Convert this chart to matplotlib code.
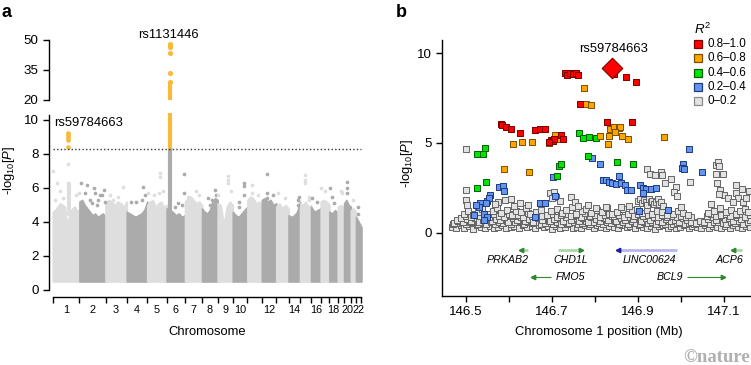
import matplotlib.pyplot as plt
import numpy as np

plt.rcParams['font.family'] = 'Liberation Sans'
plt.rcParams['mathtext.fontset'] = 'custom'
plt.rcParams['mathtext.rm'] = 'Liberation Sans'
plt.rcParams['mathtext.it'] = 'Liberation Sans:italic'

W, H = 751, 365

# ---------------- panel a: genome-wide scan ----------------
chrom_len = [249, 243, 198, 191, 181, 171, 159, 146, 141, 136, 135,
             134, 115, 107, 103, 90, 81, 78, 59, 63, 48, 51]
chrom_labels = ['1', '2', '3', '4', '5', '6', '7', '8', '9', '10', '',
                '12', '', '14', '', '16', '', '18', '', '20', '', '22']

# top of the dense point mass for each chromosome (read along its length)
mass_top = [
    [4.6, 4.7, 4.9, 5.1, 5.0, 4.9, 3.8, 4.5, 4.8, 4.9, 4.7, 4.6],
    [5.2, 5.3, 5.0, 4.8, 4.6, 4.4, 4.5, 4.3, 4.4, 4.5, 4.3],
    [5.1, 5.3, 5.2, 5.0, 5.2, 5.1, 4.9, 5.2],
    [4.6, 4.5, 4.4, 4.3, 4.4, 4.5, 4.7, 5.2],
    [5.0, 5.2, 5.3, 4.9, 5.1, 5.2, 4.9, 5.0],
    [4.8, 4.7, 4.6, 4.4, 4.5, 4.3, 4.4],
    [5.2, 5.4, 5.5, 5.3, 5.1, 5.2, 5.0],
    [4.8, 4.6, 4.5, 4.7, 5.2, 5.4, 5.3],
    [5.1, 5.0, 3.8, 4.9, 5.2, 5.0],
    [4.6, 4.4, 4.3, 4.5, 4.7, 4.9],
    [5.3, 5.5, 5.4, 5.1, 5.2, 5.0],
    [5.3, 5.4, 5.2, 5.3, 5.0, 5.1],
    [4.9, 5.1, 4.8, 5.0, 4.8],
    [4.4, 4.3, 4.4, 4.6, 5.2],
    [5.1, 5.0, 5.2, 4.9, 5.0],
    [4.9, 4.6, 4.7, 4.8],
    [5.2, 5.3, 5.2, 5.0],
    [4.6, 4.5, 4.7, 4.5],
    [4.9, 5.0, 4.8],
    [5.1, 5.3, 5.0, 4.9],
    [4.7, 4.8, 4.6],
    [4.3, 4.0, 3.7],
]
mass_bottom = 0.5

# scattered points above the mass: chromosome, position (Mb), -log10 P
out_chr = [1, 1, 1, 1, 1, 1, 1, 1, 1, 1, 1,
           2, 2, 2, 2, 2, 2, 2, 2, 2, 2, 2, 2, 2,
           3, 3, 3, 3, 4, 4, 4, 4, 4, 5, 5, 5, 5, 5, 5,
           6, 6, 6, 6, 6, 7, 7, 7, 8, 8, 8, 8, 8,
           9, 9, 9, 9, 9, 10, 10, 10, 10, 10, 11, 11, 11,
           12, 12, 12, 12, 13, 13, 14, 14, 14, 15, 15, 15, 15, 15,
           16, 16, 17, 17, 18, 18, 18, 19, 19, 20, 20, 20, 21, 22, 22]
out_pos = [6, 37, 68, 145, 145, 146, 145, 214, 245, 20, 100,
           15, 67, 52, 139, 145, 176, 192, 213, 120, 160, 100, 225, 235,
           73, 166, 120, 40, 39, 83, 154, 139, 170, 10, 119, 119, 110, 150, 60,
           164, 164, 109, 140, 80, 31, 100, 130, 58, 89, 74, 120, 130,
           92, 92, 92, 1, 120, 55, 55, 106, 106, 106, 39, 39, 100,
           44, 44, 44, 100, 18, 80, 84, 84, 100, 51, 51, 51, 80, 85,
           5, 60, 7, 38, 1, 40, 20, 30, 40, 31, 31, 31, 20, 19, 19]
out_y = [7.0, 6.27, 5.84, 6.3, 5.9, 5.5, 7.4, 5.6, 5.7, 5.3, 5.4,
         6.27, 6.2, 5.69, 5.98, 5.69, 5.29, 5.59, 5.59, 5.1, 5.0, 5.3, 5.9, 5.2,
         5.29, 6.04, 5.5, 5.6, 5.2, 5.16, 6.04, 5.3, 5.6, 5.69, 6.9, 6.67, 5.7, 5.8, 5.6,
         6.8, 5.69, 5.1, 5.0, 4.9, 5.5, 5.8, 5.6, 5.39, 5.29, 5.0, 5.9, 5.6,
         6.7, 6.5, 6.3, 5.6, 5.8, 5.2, 4.9, 6.31, 6.12, 5.6, 6.2, 5.7, 5.6,
         6.8, 5.7, 5.4, 5.6, 5.7, 5.4, 5.3, 5.0, 5.5, 6.76, 6.5, 6.3, 5.5, 5.3,
         5.4, 5.2, 6.0, 5.8, 5.98, 5.1, 5.5, 5.8, 5.7, 6.35, 6.0, 5.7, 5.3, 4.9, 4.5]

# associated loci
threshold = 8.3
chr1_hit_pos = 146.8
chr1_gray_col = (4.5, 6.3)
chr1_hit_y = [9.25, 9.15, 9.05, 8.95, 8.85, 8.4]
chr6_hit_span = (28.5, 33.5)
chr6_gray_col = (4.4, 8.3)
chr6_orange_low = (8.3, 10.4)
chr6_orange_high = (20.0, 28.3)
chr6_hit_y = [29.0, 33.7, 43.3, 46.5, 47.4, 48.1]

light, dark, hit = '#dedede', '#ababab', '#f9b93a'

starts = np.concatenate([[0], np.cumsum(chrom_len)[:-1]])
total = starts[-1] + chrom_len[-1]

fig = plt.figure(figsize=(W / 100, H / 100), dpi=100)

ax_lo = fig.add_axes([49 / W, 1 - 296.8 / H, 316 / W, (296.8 - 113.2) / H])
ax_hi = fig.add_axes([49 / W, 1 - 100 / H, 316 / W, 61 / H])
for ax in (ax_lo, ax_hi):
    ax.set_xlim(-35, 2912)
    for s in ('top', 'right'):
        ax.spines[s].set_visible(False)
    ax.spines['left'].set_linewidth(1.0)
    ax.tick_params(axis='y', length=4.5, width=1.0, pad=3, labelsize=9.6)
ax_lo.set_ylim(-0.4, 10.4)
ax_hi.set_ylim(20, 50.5)
ax_hi.spines['bottom'].set_visible(False)
ax_hi.set_xticks([])
ax_lo.spines['left'].set_bounds(0, 10.3)
ax_hi.spines['left'].set_bounds(20, 50)
ax_lo.spines['bottom'].set_bounds(0, total)
ax_lo.spines['bottom'].set_linewidth(1.0)
ax_lo.set_yticks([0, 2, 4, 6, 8, 10])
ax_hi.set_yticks([20, 35, 50])

for i, L in enumerate(chrom_len):
    col = light if i % 2 == 0 else dark
    top = mass_top[i]
    xs = starts[i] + L * np.linspace(0, 1, len(top))
    ax_lo.fill_between(xs, mass_bottom, top, facecolor=col, edgecolor=col,
                       lw=1.2, joinstyle='round', zorder=2)

for c, p, y in zip(out_chr, out_pos, out_y):
    col = light if (c - 1) % 2 == 0 else dark
    ax_lo.scatter(starts[c - 1] + p, y, s=7, color=col, lw=0, zorder=3)

# chromosome 1 locus
x1 = starts[0] + chr1_hit_pos
ax_lo.fill_between([x1 - 1, x1 + 1], chr1_gray_col[0], chr1_gray_col[1],
                   facecolor=light, edgecolor=light, lw=2.2, zorder=3)
ax_lo.scatter([x1] * len(chr1_hit_y), chr1_hit_y, s=11, color=hit, lw=0, zorder=4)

# chromosome 6 locus
s6 = starts[5]
hx = [s6 + chr6_hit_span[0], s6 + chr6_hit_span[1]]
ax_lo.fill_between(hx, chr6_gray_col[0], chr6_gray_col[1],
                   facecolor=dark, edgecolor=dark, lw=3, zorder=3)
ax_lo.fill_between(hx, chr6_orange_low[0], chr6_orange_low[1],
                   facecolor=hit, edgecolor=hit, lw=3, zorder=4)
ax_hi.fill_between(hx, chr6_orange_high[0], chr6_orange_high[1],
                   facecolor=hit, edgecolor=hit, lw=3, zorder=4)
ax_hi.scatter([s6 + sum(chr6_hit_span) / 2] * len(chr6_hit_y), chr6_hit_y,
              s=14, color=hit, lw=0, zorder=4, clip_on=False)

ax_lo.hlines(threshold, 0, total, colors='#333333', lw=1.0,
             linestyles=(0, (1, 1.6)), zorder=5)

bounds = np.concatenate([starts, [total]])
ax_lo.set_xticks(bounds)
ax_lo.set_xticklabels([])
ax_lo.set_xticks(starts + np.array(chrom_len) / 2, minor=True)
ax_lo.set_xticklabels(chrom_labels, minor=True)
ax_lo.tick_params(axis='x', which='major', length=4, width=1.0)
ax_lo.tick_params(axis='x', which='minor', length=0, pad=6, labelsize=7.8)

fig.text(168 / W, 1 - 34.5 / H, 'rs1131446', ha='center', va='center', fontsize=9.4)
fig.text(89 / W, 1 - 122.7 / H, 'rs59784663', ha='center', va='center', fontsize=9.4)
fig.text(207 / W, 1 - 332 / H, 'Chromosome', ha='center', va='center', fontsize=9.4)
fig.text(9 / W, 1 - 170 / H, r'-log$_{10}$[$P$]', rotation=90,
         ha='center', va='center', fontsize=9.4)
fig.text(2 / W, 1 - 4 / H, 'a', fontsize=13, fontweight='bold', va='top')

# ---------------- panel b: regional plot ----------------
red_x = [146.730, 146.736, 146.743, 146.750, 146.756, 146.760, 146.845, 146.872,
         146.895, 146.765, 146.828, 146.886, 146.581, 146.585, 146.593, 146.605,
         146.626, 146.662, 146.672, 146.683, 146.697, 146.702, 146.705, 146.721,
         146.726, 146.694]
red_y = [8.88, 8.77, 8.88, 8.86, 8.92, 8.79, 8.87, 8.68, 8.38, 7.19, 6.19, 6.19,
         6.04, 5.98, 5.86, 5.80, 5.58, 5.71, 5.78, 5.76, 5.17, 5.09, 5.20, 5.43,
         5.24, 5.05]
orange_x = [146.774, 146.780, 146.792, 146.836, 146.845, 146.855, 146.858, 146.833,
            146.813, 146.863, 146.876, 146.831, 146.846, 146.960, 146.609, 146.630,
            146.653, 146.694, 146.707, 146.711, 146.588, 146.647]
orange_y = [8.07, 7.19, 7.12, 5.80, 5.91, 5.84, 5.86, 5.41, 5.41, 5.39, 5.19, 4.94,
            5.63, 5.33, 4.96, 5.06, 5.07, 5.02, 5.45, 5.20, 3.55, 3.35]
green_x = [146.526, 146.541, 146.545, 146.525, 146.547, 146.717, 146.722, 146.711,
           146.763, 146.772, 146.786, 146.802, 146.784, 146.851, 146.889]
green_y = [4.40, 4.40, 4.74, 2.51, 2.83, 3.70, 3.83, 3.18, 5.58, 5.30, 5.32, 5.30,
           4.29, 3.92, 3.83]
blue_x = [146.793, 146.813, 146.857, 146.820, 146.827, 146.832, 146.840, 146.849,
          146.861, 146.869, 146.874, 146.883, 146.904, 146.911, 146.918, 146.931,
          146.942, 146.912, 146.902, 146.971, 147.019, 147.005, 147.002, 147.008,
          147.049, 146.702, 146.708, 146.672, 146.683, 146.660, 146.578, 146.587,
          146.589, 146.550, 146.557, 146.553, 146.534, 146.530, 146.547, 146.524,
          146.518, 146.542, 146.549, 146.543]
blue_y = [4.13, 3.85, 3.18, 2.94, 2.92, 2.83, 2.79, 2.71, 2.77, 2.64, 2.38, 2.36,
          2.66, 2.49, 2.45, 2.45, 2.47, 2.21, 1.19, 1.23, 4.68, 3.83, 3.61, 3.53,
          3.35, 3.10, 2.06, 1.67, 1.65, 0.89, 2.53, 2.62, 2.32, 1.78, 2.10, 1.95,
          1.64, 1.41, 1.62, 1.51, 0.99, 1.02, 0.89, 0.71]
lead_x, lead_y = 146.839, 9.2

gray_upper = [
    (146.500, 4.68), (146.500, 2.40), (146.921, 3.54), (146.928, 3.26), (146.940, 3.23),
    (146.953, 3.38), (146.955, 3.22), (146.977, 2.98), (146.963, 2.76), (146.988, 2.54),
    (146.983, 2.28), (146.990, 2.04), (147.021, 2.80), (147.081, 3.78), (147.086, 3.91),
    (147.088, 3.69), (147.081, 3.26), (147.098, 3.26), (147.085, 2.76), (147.090, 2.39),
    (147.100, 2.11), (147.088, 2.13), (147.129, 2.66), (147.141, 2.44), (147.129, 2.20),
    (147.133, 1.92), (147.145, 1.73), (147.152, 1.92), (147.158, 2.30), (147.110, 1.95),
    (146.900, 1.75), (146.905, 1.85), (146.910, 1.62), (146.914, 1.80), (146.918, 1.70),
    (146.922, 1.55), (146.926, 1.85), (146.930, 1.68), (146.934, 1.78), (146.938, 1.60),
    (146.942, 1.72), (146.946, 1.86), (146.950, 1.58), (146.954, 1.70), (146.958, 1.50),
    (146.575, 1.73), (146.591, 1.83), (146.604, 1.86), (146.626, 1.64), (146.645, 1.55),
    (146.695, 2.20), (146.706, 2.24), (146.710, 1.98), (146.744, 1.98), (146.753, 1.73),
    (146.784, 1.55), (146.803, 1.36), (146.500, 1.80), (146.502, 1.55), (146.567, 1.60),
    (146.612, 1.50), (146.700, 1.90), (146.718, 1.75), (146.760, 1.50), (146.825, 1.45),
    (146.860, 1.42), (146.880, 1.50), (147.000, 1.45), (147.070, 1.60), (147.120, 1.70),
]
gray_x1 = [146.468, 146.477, 146.489, 146.497, 146.508, 146.516, 146.527, 146.536, 146.545, 146.556,
           146.565, 146.574, 146.585, 146.593, 146.604, 146.613, 146.624, 146.633, 146.642, 146.653,
           146.662, 146.671, 146.682, 146.690, 146.701, 146.710, 146.719, 146.730, 146.738, 146.749,
           146.758, 146.767, 146.778, 146.786, 146.797, 146.806, 146.815, 146.826, 146.834, 146.845,
           146.854, 146.863, 146.874, 146.882, 146.893, 146.902, 146.911, 146.922, 146.930, 146.941,
           146.950, 146.959, 146.970, 146.978, 146.989, 146.998, 147.007, 147.018, 147.026, 147.037,
           147.046, 147.055, 147.066, 147.074, 147.085, 147.094, 147.103, 147.114, 147.122, 147.133,
           147.142, 147.151, 147.160]
gray_y1 = [0.32, 0.25, 0.41, 0.28, 0.35, 0.22, 0.44, 0.30, 0.27, 0.38,
           0.24, 0.33, 0.42, 0.26, 0.31, 0.37, 0.23, 0.40, 0.29, 0.34,
           0.25, 0.43, 0.30, 0.36, 0.22, 0.39, 0.28, 0.33, 0.45, 0.26,
           0.31, 0.24, 0.40, 0.35, 0.27, 0.42, 0.30, 0.23, 0.38, 0.33,
           0.26, 0.44, 0.29, 0.36, 0.24, 0.41, 0.31, 0.27, 0.38, 0.22,
           0.34, 0.43, 0.28, 0.37, 0.25, 0.32, 0.40, 0.26, 0.35, 0.30,
           0.23, 0.42, 0.28, 0.36, 0.31, 0.24, 0.39, 0.27, 0.44, 0.33,
           0.25, 0.37, 0.30]
gray_x2 = [146.472, 146.483, 146.493, 146.503, 146.512, 146.522, 146.531, 146.541, 146.551, 146.560,
           146.570, 146.580, 146.589, 146.599, 146.609, 146.618, 146.628, 146.638, 146.647, 146.657,
           146.667, 146.676, 146.686, 146.696, 146.705, 146.715, 146.725, 146.734, 146.744, 146.754,
           146.763, 146.773, 146.783, 146.792, 146.802, 146.812, 146.821, 146.831, 146.841, 146.850,
           146.860, 146.870, 146.879, 146.889, 146.899, 146.908, 146.918, 146.928, 146.937, 146.947,
           146.957, 146.966, 146.976, 146.986, 146.995, 147.005, 147.015, 147.024, 147.034, 147.044,
           147.053, 147.063, 147.073, 147.082, 147.092, 147.102, 147.111, 147.121, 147.131, 147.140,
           147.150, 147.160]
gray_y2 = [0.55, 0.62, 0.58, 0.74, 0.66, 0.81, 0.59, 0.72, 0.85, 0.63,
           0.77, 0.68, 0.90, 0.61, 0.79, 0.70, 0.86, 0.64, 0.75, 0.58,
           0.82, 0.69, 0.93, 0.66, 0.78, 0.88, 0.62, 0.84, 0.71, 0.95,
           0.67, 0.80, 0.60, 0.87, 0.73, 0.65, 0.83, 0.70, 0.91, 0.62,
           0.79, 0.68, 0.86, 0.74, 0.94, 0.66, 0.81, 0.72, 0.88, 0.63,
           0.57, 0.76, 0.64, 0.70, 0.59, 0.82, 0.68, 0.61, 0.55, 0.66,
           0.60, 0.78, 0.85, 0.69, 0.92, 0.74, 0.83, 0.66, 0.89, 0.77,
           0.84, 0.71]
gray_x3 = [146.495, 146.505, 146.517, 146.528, 146.538, 146.552, 146.563, 146.572, 146.583, 146.596,
           146.607, 146.616, 146.629, 146.640, 146.650, 146.664, 146.675, 146.688, 146.699, 146.712,
           146.723, 146.733, 146.746, 146.757, 146.769, 146.780, 146.791, 146.805, 146.816, 146.828,
           146.839, 146.852, 146.866, 146.877, 146.887, 146.897, 146.909, 146.921, 146.933, 146.945,
           146.956, 146.968, 146.981, 146.993, 147.004, 147.016, 147.064, 147.078, 147.091, 147.105,
           147.117, 147.127, 147.138, 147.148, 147.157]
gray_y3 = [1.05, 1.22, 0.98, 1.15, 1.30, 1.02, 1.18, 1.35, 1.08, 1.25,
           0.99, 1.20, 1.12, 1.38, 1.04, 1.16, 1.28, 1.00, 1.21, 1.33,
           1.09, 1.26, 1.40, 1.03, 1.19, 1.31, 1.07, 1.24, 1.13, 1.36,
           1.01, 1.17, 1.29, 1.06, 1.23, 1.34, 1.11, 1.27, 1.02, 1.20,
           1.14, 0.98, 1.05, 1.18, 1.10, 0.97, 1.08, 1.22, 1.35, 1.15,
           1.28, 1.04, 1.19, 1.31, 1.12]
gray_x4 = [146.470, 146.480, 146.491, 146.500, 146.510, 146.519, 146.529, 146.539, 146.548, 146.558,
           146.567, 146.577, 146.587, 146.596, 146.606, 146.615, 146.626, 146.635, 146.645, 146.655,
           146.664, 146.674, 146.684, 146.693, 146.703, 146.712, 146.722, 146.732, 146.741, 146.751,
           146.761, 146.770, 146.780, 146.789, 146.799, 146.809, 146.818, 146.828, 146.838, 146.847,
           146.857, 146.866, 146.876, 146.886, 146.895, 146.905, 146.914, 146.924, 146.934, 146.943,
           146.953, 146.962, 146.972, 146.982, 146.991, 147.001, 147.010, 147.020, 147.030, 147.039,
           147.049, 147.058, 147.068, 147.078, 147.087, 147.097, 147.106, 147.116, 147.126, 147.135,
           147.145, 147.155]
gray_y4 = [0.45, 0.52, 0.60, 0.48, 0.57, 0.63, 0.46, 0.55, 0.50, 0.61,
           0.47, 0.58, 0.53, 0.64, 0.49, 0.56, 0.62, 0.45, 0.59, 0.51,
           0.60, 0.47, 0.54, 0.63, 0.50, 0.57, 0.46, 0.61, 0.52, 0.58,
           0.48, 0.55, 0.64, 0.49, 0.60, 0.53, 0.46, 0.58, 0.51, 0.62,
           0.47, 0.56, 0.50, 0.63, 0.54, 0.48, 0.59, 0.52, 0.61, 0.45,
           0.57, 0.50, 0.62, 0.47, 0.55, 0.60, 0.49, 0.53, 0.46, 0.58,
           0.51, 0.63, 0.48, 0.56, 0.60, 0.52, 0.47, 0.59, 0.54, 0.62,
           0.49, 0.57]
gray_x5 = [146.480, 146.490, 146.500, 146.511, 146.522, 146.533, 146.544, 146.555, 146.566, 146.577,
           146.588, 146.600, 146.611, 146.622, 146.633, 146.644, 146.655, 146.666, 146.678, 146.689,
           146.700, 146.711, 146.722, 146.733, 146.745, 146.756, 146.767, 146.778, 146.789, 146.800,
           146.812, 146.823, 146.834, 146.845, 146.856, 146.867, 146.879, 146.890, 146.901, 146.912,
           146.923, 146.934, 146.946, 146.957, 146.968, 146.979, 146.990, 147.001, 147.013, 147.024,
           147.060, 147.071, 147.082, 147.093, 147.104, 147.115, 147.127, 147.138, 147.149, 147.160]
gray_y5 = [0.72, 0.80, 0.95, 0.88, 1.02, 0.91, 0.99, 0.86, 1.06, 0.93,
           0.89, 1.04, 0.92, 0.98, 0.87, 1.08, 0.94, 1.01, 0.90, 0.97,
           1.05, 0.88, 0.96, 1.03, 0.91, 0.99, 0.86, 1.07, 0.93, 1.00,
           0.89, 0.97, 1.04, 0.92, 0.98, 0.87, 1.05, 0.94, 1.01, 0.90,
           0.96, 1.03, 0.88, 0.99, 0.85, 0.92, 0.89, 0.95, 0.87, 0.84,
           0.93, 1.02, 0.90, 0.98, 1.06, 0.91, 0.97, 1.04, 0.89, 1.00]

genes = ['PRKAB2', 'CHD1L', 'LINC00624', 'ACP6', 'FMO5', 'BCL9']
gene_start = [146.6295, 146.715, 146.854, 147.120, 146.657, 147.015]
gene_end = [146.645, 146.767, 146.990, 147.143, 146.697, 147.097]
gene_strand = ['-', '+', '-', '-', '-', '+']
gene_row_y = [-0.98, -0.98, -0.98, -0.98, -2.48, -2.48]
gene_label_x = [146.597, 146.743, 146.927, 147.112, 146.743, 146.974]
gene_label_y = [-1.52, -1.52, -1.52, -1.52, -2.48, -2.48]
gene_line_col = ['#a9d9a9', '#a9d9a9', '#b7b7ee', '#a9d9a9', '#2f8a2f', '#2f8a2f']
gene_head_col = ['#2f8a2f', '#2f8a2f', '#1f1f9c', '#2f8a2f', '#2f8a2f', '#2f8a2f']
gene_lw = [2.0, 2.0, 2.0, 2.0, 0.8, 0.8]

r2_labels = ['0.8\u20131.0', '0.6\u20130.8', '0.4\u20130.6', '0.2\u20130.4', '0\u20130.2']
r2_face = ['#ff0000', '#ffa500', '#00e600', '#6495ed', '#e2e2e2']
r2_edge = ['#7a0000', '#7a4f00', '#006000', '#1d3a85', '#646464']

axb = fig.add_axes([441.7 / W, 1 - 296 / H, (W - 441.7) / W, 256 / H])
axb.set_xlim(146.444, 147.163)
axb.set_ylim(-3.54, 10.74)
for s in ('top', 'right'):
    axb.spines[s].set_visible(False)
for s in ('left', 'bottom'):
    axb.spines[s].set_linewidth(1.0)
axb.set_yticks([0, 5, 10])
xt = [146.5, 146.6, 146.7, 146.8, 146.9, 147.0, 147.1]
axb.set_xticks(xt)
axb.set_xticklabels(['146.5', '', '146.7', '', '146.9', '', '147.1'])
axb.tick_params(length=4, width=1.0, labelsize=9.6, pad=3)

sq = dict(marker='s', s=22, linewidths=0.7)
gx = gray_x1 + gray_x4 + gray_x2 + gray_x5 + gray_x3 + [p[0] for p in gray_upper]
gy = gray_y1 + gray_y4 + gray_y2 + gray_y5 + gray_y3 + [p[1] for p in gray_upper]
axb.scatter(gx, gy, facecolor=r2_face[4], edgecolor=r2_edge[4], zorder=2, **sq)
axb.scatter(blue_x, blue_y, facecolor=r2_face[3], edgecolor=r2_edge[3], zorder=3, **sq)
axb.scatter(green_x, green_y, facecolor=r2_face[2], edgecolor=r2_edge[2], zorder=4, **sq)
axb.scatter(orange_x, orange_y, facecolor=r2_face[1], edgecolor=r2_edge[1], zorder=5, **sq)
axb.scatter(red_x, red_y, facecolor=r2_face[0], edgecolor=r2_edge[0], zorder=6, **sq)
axb.scatter([lead_x], [lead_y], marker='D', s=110, facecolor='#ff0000',
            edgecolor='#7a0000', linewidths=0.8, zorder=7)
axb.text(146.843, 10.25, 'rs59784663', ha='center', va='center', fontsize=9.4)

for i, g in enumerate(genes):
    y = gene_row_y[i]
    axb.plot([gene_start[i], gene_end[i]], [y, y], color=gene_line_col[i],
             lw=gene_lw[i], solid_capstyle='butt', zorder=3)
    if gene_strand[i] == '+':
        axb.plot(gene_end[i], y, marker='>', ms=3.2, color=gene_head_col[i], zorder=4)
    else:
        axb.plot(gene_start[i], y, marker='<', ms=3.2, color=gene_head_col[i], zorder=4)
    axb.text(gene_label_x[i], gene_label_y[i], g, ha='center', va='center',
             fontsize=7.7, style='italic')

# legend
fig.text(694 / W, 1 - 29 / H, r'$R^2$', ha='left', va='center', fontsize=9.6)
for i, lab in enumerate(r2_labels):
    yy = 1 - (44 + i * 14.3) / H
    axb.plot([698 / W], [yy], marker='s', ms=6.2, mfc=r2_face[i],
             mec=r2_edge[i] if i < 4 else '#8a8a8a', mew=0.9,
             transform=fig.transFigure, clip_on=False)
    fig.text(707 / W, yy, lab, ha='left', va='center', fontsize=8.4)

fig.text(599 / W, 1 - 332 / H, 'Chromosome 1 position (Mb)', ha='center',
         va='center', fontsize=9.4)
fig.text(407.5 / W, 1 - 163 / H, r'-log$_{10}$[$P$]', rotation=90,
         ha='center', va='center', fontsize=9.4)
fig.text(396 / W, 1 - 4 / H, 'b', fontsize=13, fontweight='bold', va='top')
fig.text(750 / W, 1 - 357 / H, '\u00a9nature', ha='right', va='center',
         fontsize=13.5, fontweight='bold', family='Liberation Serif', color='#b0b0b0')

fig.savefig('out.png', dpi=100)
